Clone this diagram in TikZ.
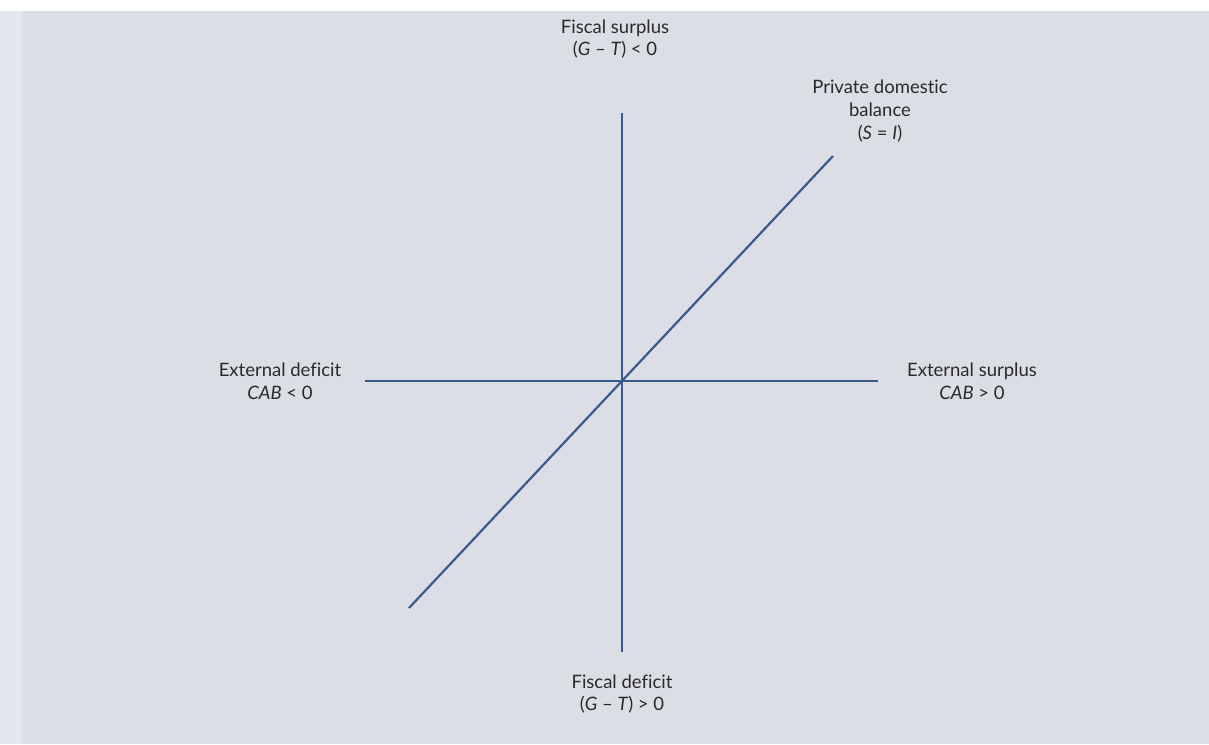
\documentclass[tikz,border=0pt]{standalone}
\usepackage{fontspec}
\setmainfont{Lato}[Ligatures={NoCommon}]
\begin{document}
\begin{tikzpicture}[x=1pt,y=-1pt,
  axis/.style={draw=linecol,line width=2.2pt},
  lbl/.style={align=center,text=textcol,font=\fontsize{18.5}{22.8}\selectfont,inner sep=0pt}]
\definecolor{bgcol}{HTML}{DBDEE4}
\definecolor{stripcol}{HTML}{E4E7EE}
\definecolor{linecol}{HTML}{3A5A8C}
\definecolor{textcol}{HTML}{2A2A2A}
\useasboundingbox (0,0) rectangle (1209,744);
\fill[white] (0,0) rectangle (1209,744);
\fill[stripcol] (0,11) rectangle (22,744);
\fill[bgcol] (22,11) rectangle (1209,744);
\coordinate (O) at (622,381);
\coordinate (vt) at (622,113);
\coordinate (vb) at (622,652);
\coordinate (hl) at (365,381);
\coordinate (hr) at (878,381);
\coordinate (dt) at (833,156);
\coordinate (db) at (409,608);
\draw[axis] (vt) -- (vb);
\draw[axis] (hl) -- (hr);
\draw[axis] (db) -- (dt);
\node[lbl] (fs) at (615,39) {Fiscal surplus\\(\textit{G} – \textit{T}) < 0};
\node[lbl] (pd) at (880,111) {Private domestic\\balance\\(\textit{S} = \textit{I})};
\node[lbl] (ed) at (280,381) {External deficit\\\textit{CAB} < 0};
\node[lbl] (es) at (972,381) {External surplus\\\textit{CAB} > 0};
\node[lbl] (fd) at (622,694) {Fiscal deficit\\(\textit{G} – \textit{T}) > 0};
\end{tikzpicture}
\end{document}
